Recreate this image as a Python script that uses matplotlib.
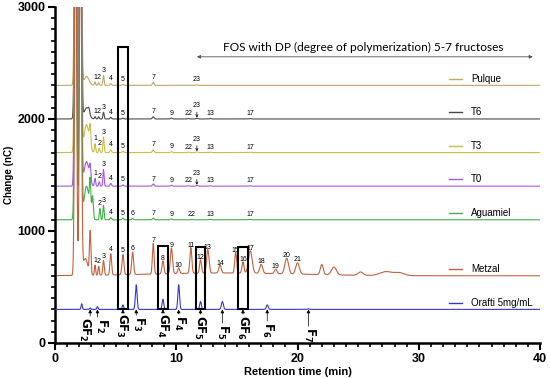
import numpy as np
import matplotlib.pyplot as plt
from matplotlib.patches import Rectangle

plt.rcParams['font.family'] = ['Liberation Sans', 'DejaVu Sans']

# ---- samples: name, baseline offset (nC), colour ----
names = ["Pulque", "T6", "T3", "T0", "Aguamiel", "Metzal", "Orafti 5mg/mL"]
baselines = [2300, 2000, 1700, 1400, 1100, 600, 300]
colors = ["#c2a86a", "#4a4a4a", "#cdbd45", "#a457ee", "#3fb048", "#c0623e", "#3636d2"]

# ---- peaks: retention time (min), height above baseline (nC), width, label ----
pulque_rt = [1.7, 2.1, 2.6, 3.3, 3.6, 4.0, 4.6, 5.6, 8.1, 11.7]
pulque_h = [3500, 3500, 80, 30, 25, 90, 15, 10, 25, 5]
pulque_w = [0.08, 0.08, 0.2, 0.05, 0.05, 0.05, 0.06, 0.06, 0.07, 0.07]
pulque_lbl = ["", "", "", "1", "2", "3", "4", "5", "7", "23"]

t6_rt = [1.7, 2.1, 2.6, 2.8, 3.3, 3.6, 4.0, 4.6, 5.6, 8.1, 9.6, 11.0, 11.7, 12.8, 16.1]
t6_h = [3500, 3500, 100, 40, 20, 20, 60, 15, 8, 20, 8, 4, 6, 4, 4]
t6_w = [0.08, 0.08, 0.2, 0.06, 0.05, 0.05, 0.05, 0.06, 0.06, 0.07, 0.07, 0.07, 0.07, 0.07, 0.07]
t6_lbl = ["", "", "", "", "1", "2", "3", "4", "5", "7", "9", "22", "23", "13", "17"]

t3_rt = [1.7, 2.1, 2.6, 2.9, 3.3, 3.65, 4.0, 4.6, 5.6, 8.1, 9.6, 11.0, 11.7, 12.8, 16.1]
t3_h = [3500, 3500, 250, 175, 80, 40, 140, 25, 12, 25, 8, 4, 6, 4, 4]
t3_w = [0.08, 0.08, 0.2, 0.06, 0.05, 0.05, 0.05, 0.06, 0.06, 0.07, 0.07, 0.07, 0.07, 0.07, 0.07]
t3_lbl = ["", "", "", "", "1", "2", "3", "4", "5", "7", "9", "22", "23", "13", "17"]

t0_rt = [1.7, 2.1, 2.6, 2.9, 3.3, 3.65, 4.0, 4.6, 5.6, 8.1, 9.6, 11.0, 11.7, 12.8, 16.1]
t0_h = [3500, 3500, 220, 130, 70, 40, 150, 25, 12, 20, 8, 4, 6, 4, 4]
t0_w = [0.08, 0.08, 0.2, 0.06, 0.05, 0.05, 0.05, 0.06, 0.06, 0.07, 0.07, 0.07, 0.07, 0.07, 0.07]
t0_lbl = ["", "", "", "", "1", "2", "3", "4", "5", "7", "9", "22", "23", "13", "17"]

agua_rt = [1.7, 2.1, 2.6, 2.9, 3.1, 3.7, 4.0, 4.6, 5.6, 6.4, 8.1, 9.6, 11.3, 12.8, 16.1]
agua_h = [3500, 3500, 300, 280, 200, 100, 130, 20, 15, 12, 15, 8, 4, 4, 4]
agua_w = [0.08, 0.08, 0.2, 0.06, 0.06, 0.05, 0.05, 0.06, 0.06, 0.06, 0.07, 0.07, 0.07, 0.07, 0.07]
agua_lbl = ["", "", "", "", "", "2", "3", "4", "5", "6", "7", "9", "22", "13", "17"]

metzal_rt = [1.7, 2.1, 2.5, 2.9, 3.3, 3.6, 4.0, 4.6, 5.6, 6.4, 8.1, 8.9, 9.6, 10.2,
             11.2, 12.0, 12.6, 13.6, 14.9, 15.5, 16.1, 17.0, 18.2, 19.1, 20.0,
             22.0, 23.0, 25.2, 27.3, 28.4, 14.0]
metzal_h = [3500, 3500, 150, 380, 90, 80, 130, 190, 180, 200, 275, 115, 230, 50,
            230, 120, 210, 70, 185, 100, 200, 80, 40, 140, 100,
            90, 70, 30, 35, 25, 25]
metzal_w = [0.08, 0.08, 0.2, 0.06, 0.05, 0.05, 0.06, 0.07, 0.08, 0.08, 0.07, 0.08, 0.09, 0.08,
            0.08, 0.08, 0.1, 0.1, 0.08, 0.08, 0.15, 0.12, 0.1, 0.15, 0.15,
            0.12, 0.2, 0.2, 0.5, 0.4, 6.0]
metzal_lbl = ["", "", "", "", "1", "2", "3", "4", "5", "6", "7", "8", "9", "10",
              "11", "12", "13", "14", "15", "16", "17", "18", "19", "20", "21",
              "", "", "", "", "", ""]

orafti_rt = [2.2, 2.9, 3.5, 5.6, 6.7, 8.9, 10.2, 12.0, 13.8, 15.5, 17.5, 20.9]
orafti_h = [50, 12, 25, 40, 220, 90, 220, 70, 70, 10, 40, 5]
orafti_w = [0.05, 0.05, 0.05, 0.06, 0.07, 0.07, 0.07, 0.07, 0.08, 0.08, 0.08, 0.08]
orafti_lbl = [""] * 12

# standards marked under the Orafti trace (arrow position, text position, text top)
std_names = ["GF_2", "F_2", "GF_3", "F_3", "GF_4", "F_4", "GF_5", "F_5", "GF_6", "F_6", "F_7"]
std_rt = [2.9, 3.5, 5.6, 6.7, 8.9, 10.2, 12.0, 13.8, 15.5, 17.5, 20.9]
std_tx = [2.45, 3.8, 5.5, 6.85, 8.85, 10.3, 11.95, 13.85, 15.45, 17.55, 20.95]
std_top = [232, 223, 268, 241, 268, 250, 250, 170, 250, 188, 143]

# boxes (x0, x1, top) drawn from the Orafti baseline
box_x0 = [5.2, 8.5, 11.6, 15.1]
box_x1 = [6.0, 9.35, 12.4, 15.95]
box_top = [2640, 865, 857, 857]

peak_rt = [pulque_rt, t6_rt, t3_rt, t0_rt, agua_rt, metzal_rt, orafti_rt]
peak_h = [pulque_h, t6_h, t3_h, t0_h, agua_h, metzal_h, orafti_h]
peak_w = [pulque_w, t6_w, t3_w, t0_w, agua_w, metzal_w, orafti_w]
peak_lbl = [pulque_lbl, t6_lbl, t3_lbl, t0_lbl, agua_lbl, metzal_lbl, orafti_lbl]

t = np.linspace(0, 40, 4001)

fig = plt.figure(figsize=(5.5, 3.78), dpi=100)
ax = fig.add_axes([0.1, 0.0926, 0.882, 0.889])

order = [6, 0, 1, 2, 3, 4, 5]
for i in order:
    y = np.full_like(t, float(baselines[i]))
    for c, h, w in zip(peak_rt[i], peak_h[i], peak_w[i]):
        y += h * np.exp(-0.5 * ((t - c) / w) ** 2)
    ax.plot(t, y, color=colors[i], lw=0.8, zorder=2 + i * 0.1)

    # peak numbers
    lbls = peak_lbl[i]
    for c, h, lab in zip(peak_rt[i], peak_h[i], lbls):
        if not lab:
            continue
        if lab == "23" and "22" in lbls:
            ax.annotate("23", xy=(c, baselines[i] + 12), xytext=(c, baselines[i] + 85),
                        ha="center", va="bottom", fontsize=5,
                        arrowprops=dict(arrowstyle="->", lw=0.5, color="black",
                                        shrinkA=0, shrinkB=0, mutation_scale=4))
        else:
            ax.text(c, baselines[i] + h + 12, lab, ha="center", va="bottom", fontsize=5)

    # legend-like labels at the right end
    yl = baselines[i] + 60
    ax.plot([32.5, 33.6], [yl, yl], color=colors[i], lw=1.0)
    ax.text(34.3, yl, names[i], fontsize=7, va="center", ha="left")

# standards below Orafti
for nm, x, tx, top in zip(std_names, std_rt, std_tx, std_top):
    ax.text(tx, top, r"$\mathbf{%s}$" % nm, rotation=270, ha="center", va="top",
            fontsize=8.5)
    ax.annotate("", xy=(x, 300), xytext=(x, top + 8),
                arrowprops=dict(arrowstyle="-|>", lw=0.5, color="black",
                                shrinkA=0, shrinkB=0, mutation_scale=5))

for x0, x1, top in zip(box_x0, box_x1, box_top):
    ax.add_patch(Rectangle((x0, 300), x1 - x0, top - 300, fill=False,
                           edgecolor="black", lw=1.5, zorder=5))

# FOS annotation
ax.annotate("", xy=(11.7, 2555), xytext=(39.4, 2555),
            arrowprops=dict(arrowstyle="<|-|>", lw=0.6, color="#555555",
                            shrinkA=0, shrinkB=0, mutation_scale=5))
ax.text(25.4, 2640, "FOS with DP (degree of polymerization) 5-7 fructoses",
        ha="center", va="center", fontsize=8.6, family=["Lato", "DejaVu Sans"])

ax.set_xlim(0, 40)
ax.set_ylim(0, 3000)
ax.set_xticks([0, 10, 20, 30, 40])
ax.set_yticks([0, 1000, 2000, 3000])
ax.set_xticks(np.arange(0, 41, 1), minor=True)
ax.set_yticks(np.arange(0, 3001, 100), minor=True)
for s in ["top", "right"]:
    ax.spines[s].set_visible(False)
for s in ["left", "bottom"]:
    ax.spines[s].set_linewidth(1.8)
ax.tick_params(which="major", width=1.5, length=5, labelsize=9, pad=2)
ax.tick_params(which="minor", width=1.2, length=3)
for lab in ax.get_xticklabels() + ax.get_yticklabels():
    lab.set_fontweight("bold")
ax.set_xlabel("Retention time (min)", fontsize=8, fontweight="bold", labelpad=2)
ax.set_ylabel("Change (nC)", fontsize=7, fontweight="bold", labelpad=2)

fig.savefig("out.png", dpi=100)
